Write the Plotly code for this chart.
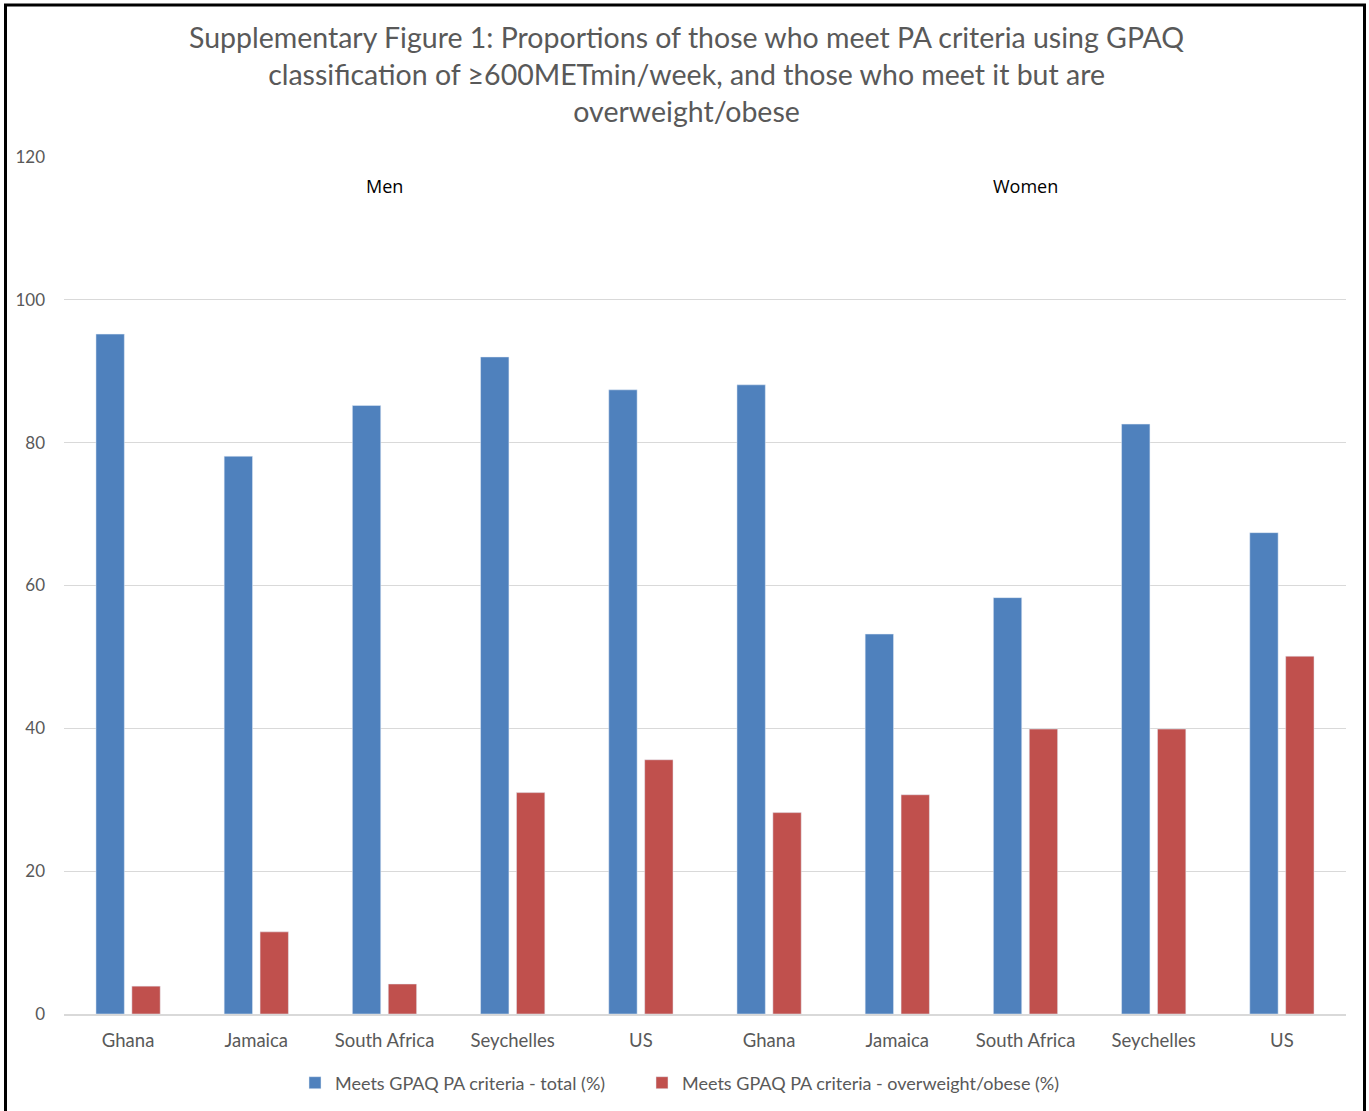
import plotly.graph_objects as go

# Country groups: first five are men, last five are women
countries = ["Ghana", "Jamaica", "South Africa", "Seychelles", "US",
             "Ghana", "Jamaica", "South Africa", "Seychelles", "US"]
total_pct = [95.2, 78.1, 85.2, 92.0, 87.4, 88.1, 53.2, 58.3, 82.6, 67.4]
overweight_pct = [3.9, 11.5, 4.2, 31.0, 35.6, 28.2, 30.7, 39.9, 39.9, 50.1]
group_labels = ["Men", "Women"]
group_centers = [2, 7]

title_lines = [
    "Supplementary Figure 1: Proportions of those who meet PA criteria using GPAQ",
    "classification of ≥600METmin/week, and those who meet it but are",
    "overweight/obese",
]

x_pos = list(range(len(countries)))

FONT = "Lato, 'Open Sans', sans-serif"
GREY = "#595959"

W, H = 1369, 1111
ml, mr, mt, mb = 64, 23, 157, 97
pw, ph = W - ml - mr, H - mt - mb

fig = go.Figure()
fig.add_trace(go.Bar(
    x=x_pos, y=total_pct, name="Meets GPAQ PA criteria - total (%)",
    marker=dict(color="#4f81bd"), legend="legend", showlegend=True,
))
fig.add_trace(go.Bar(
    x=x_pos, y=overweight_pct, name="Meets GPAQ PA criteria - overweight/obese (%)",
    marker=dict(color="#c0504d"), legend="legend2", showlegend=True,
))

# Group headings above the bars
for label, cx in zip(group_labels, group_centers):
    fig.add_annotation(x=cx, y=116, text=label, showarrow=False,
                       xref="x", yref="y",
                       font=dict(family="'Open Sans', sans-serif", size=18, color="black"))

# Chart title (three centred lines)
fig.add_annotation(
    x=(686 - ml) / pw, xref="paper", xanchor="center",
    y=(H - 18 - mb) / ph, yref="paper", yanchor="top",
    text="<br>".join(title_lines), showarrow=False, align="center",
    font=dict(family=FONT, size=28.5, color=GREY),
)

# Outer frame around the whole chart
fig.add_shape(type="rect", xref="paper", yref="paper",
              x0=(5.5 - ml) / pw, x1=(1364.5 - ml) / pw,
              y0=(H - 1114 - mb) / ph, y1=(H - 5 - mb) / ph,
              line=dict(color="black", width=3), fillcolor="rgba(0,0,0,0)",
              layer="above")

legend_style = dict(orientation="h", xanchor="left", yanchor="middle",
                    y=-(1083 - (H - mb)) / ph, bgcolor="rgba(0,0,0,0)",
                    font=dict(family=FONT, size=18, color=GREY),
                    itemwidth=30, visible=True)

fig.update_layout(
    width=W, height=H,
    showlegend=True,
    margin=dict(l=ml, r=mr, t=mt, b=mb, autoexpand=False),
    paper_bgcolor="white", plot_bgcolor="white",
    barmode="group", bargap=0.44, bargroupgap=0.21,
    font=dict(family=FONT, color=GREY),
    legend=dict(x=(295 - ml) / pw, **legend_style),
    legend2=dict(x=(642 - ml) / pw, **legend_style),
    xaxis=dict(
        tickmode="array", tickvals=x_pos, ticktext=countries,
        range=[-0.5, len(countries) - 0.5],
        showgrid=False, showline=True, linecolor="#d9d9d9", linewidth=1.5,
        ticks="", ticklabelstandoff=9,
        tickfont=dict(family=FONT, size=18.5, color=GREY),
    ),
    yaxis=dict(
        range=[0, 120], tickvals=[0, 20, 40, 60, 80, 100, 120],
        showgrid=True, gridcolor="#d9d9d9", gridwidth=1,
        zeroline=False, showline=False, ticks="",
        ticklabelstandoff=18,
        tickfont=dict(family=FONT, size=17, color=GREY),
    ),
)

fig.write_html("out.html")
